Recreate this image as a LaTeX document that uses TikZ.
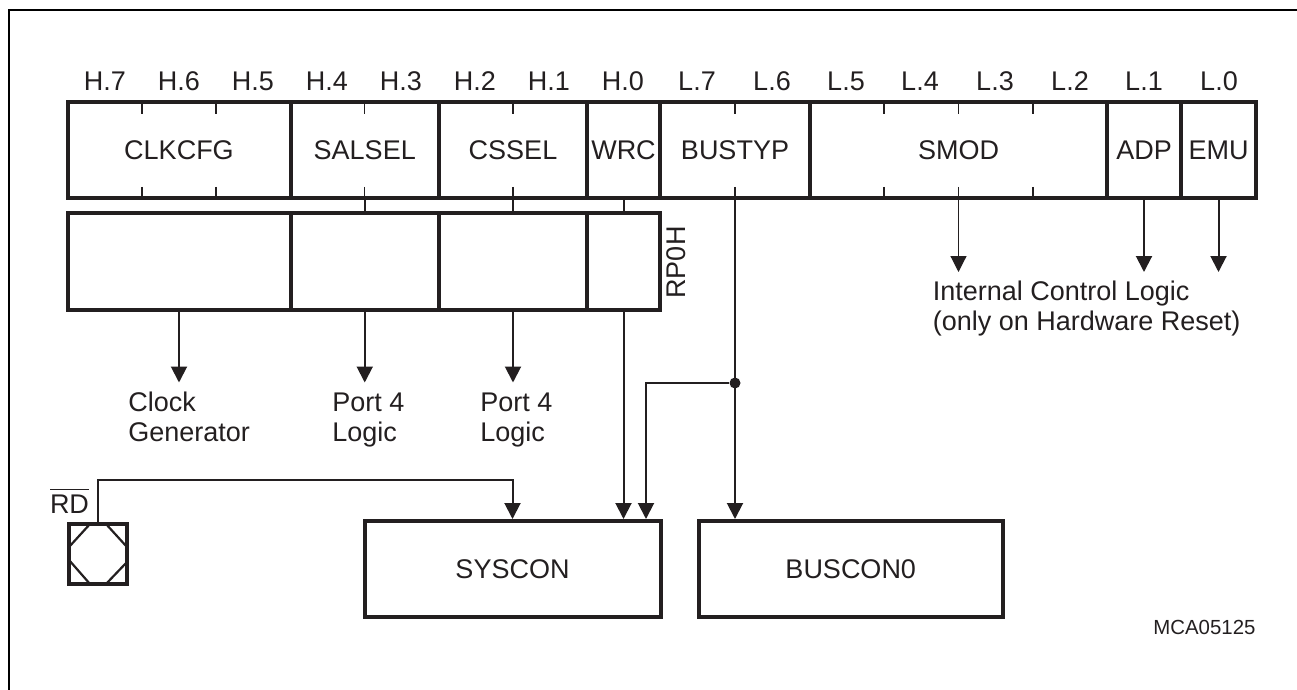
\documentclass[tikz,border=0pt]{standalone}
\usepackage{fontspec}
\setmainfont{Liberation Sans}
\usetikzlibrary{arrows.meta,calc}
\definecolor{ink}{HTML}{231F20}
\tikzset{
  x=0.5pt,y=-0.5pt,
  cellbox/.style={draw=ink,line width=2pt,inner sep=0pt,text=ink,text height=9.5pt,text depth=0pt,font=\fontsize{13.5}{15}\selectfont},
  lbl/.style={inner sep=0pt,text=ink,font=\fontsize{13.5}{15}\selectfont},
  tick/.style={draw=ink,line width=0.9pt},
  conn/.style={draw=ink,line width=1pt},
  thinconn/.style={draw=ink,line width=0.6pt},
  arrowed/.style={-{Triangle[length=8pt,width=8pt]}}
}
% name, x1, x2, y1, y2, text
\newcommand{\regcell}[6]{\node[cellbox,minimum width={(#3-#2)*0.5pt},minimum height={(#5-#4)*0.5pt}] (#1) at ({(#2+#3)/2},{(#4+#5)/2}) {#6};}
\begin{document}
\begin{tikzpicture}
\useasboundingbox (0,0) rectangle (1297,690);
\fill[white] (0,0) rectangle (1297,690);
% sheet frame
\coordinate (frameTL) at (9,10);
\coordinate (frameTR) at (1297,10);
\coordinate (frameBL) at (9,690);
\draw[black,line width=1.1pt] (frameTR) -- (frameTL) -- (frameBL);
% bit labels
\foreach \t/\x in {H.7/105,H.6/179,H.5/253,H.4/327,H.3/401,H.2/475,H.1/549,H.0/623,L.7/697,L.6/772,L.5/846,L.4/920,L.3/995,L.2/1070,L.1/1144,L.0/1219}
  \node[lbl,anchor=base] (bit\t) at (\x,91) {\t};
% upper register
\regcell{clkU}{67.5}{290.5}{102}{198}{CLKCFG}
\regcell{salU}{290.5}{439}{102}{198}{SALSEL}
\regcell{cssU}{439}{587}{102}{198}{CSSEL}
\regcell{wrcU}{587}{660}{102}{198}{WRC}
\regcell{busU}{660}{810}{102}{198}{BUSTYP}
\regcell{smodU}{810}{1107}{102}{198}{SMOD}
\regcell{adpU}{1107}{1181}{102}{198}{ADP}
\regcell{emuU}{1181}{1256}{102}{198}{EMU}
% lower register
\regcell{clkL}{67.5}{290.5}{213}{310}{}
\regcell{salL}{290.5}{439}{213}{310}{}
\regcell{cssL}{439}{587}{213}{310}{}
\regcell{wrcL}{587}{660}{213}{310}{}
\node[lbl,rotate=90] (rp) at (676,262.5) {RP0H};
% ticks
\foreach \x in {142,216,364.5,513,735,884,1033}{
  \draw[tick] (\x,104) -- (\x,114);
  \draw[tick] (\x,187) -- (\x,197);
}
\draw[thinconn] (958.5,104) -- (958.5,114);
\draw[thinconn] (958.5,187) -- (958.5,197);
% links between registers
\draw[conn] (salU.south) -- (salL.north);
\draw[conn] (cssU.south) -- (cssL.north);
\draw[conn] (wrcU.south) -- (wrcL.north);
% target blocks
\regcell{syscon}{364.5}{660.5}{521}{617}{SYSCON}
\regcell{buscon}{698.5}{1003}{521}{617}{BUSCON0}
% free ends of arrows
\coordinate (tipClk) at (clkL.south |- 0,382.5);
\coordinate (tipSal) at (salL.south |- 0,382.5);
\coordinate (tipCss) at (cssL.south |- 0,382.5);
\coordinate (tipSmod) at (smodU.south |- 0,272);
\coordinate (tipAdp) at (adpU.south |- 0,272);
\coordinate (tipEmu) at (emuU.south |- 0,272);
\draw[conn,arrowed] (clkL.south) -- (tipClk);
\draw[conn,arrowed] (salL.south) -- (tipSal);
\draw[conn,arrowed] (cssL.south) -- (tipCss);
\draw[thinconn,arrowed] (smodU.south) -- (tipSmod);
\draw[conn,arrowed] (adpU.south) -- (tipAdp);
\draw[conn,arrowed] (emuU.south) -- (tipEmu);
% outputs labels
\node[lbl,anchor=base west] (icl1) at (932.5,300) {Internal Control Logic};
\node[lbl,anchor=base west] (icl2) at (932.5,330) {(only on Hardware Reset)};
\node[lbl,anchor=base west] (clk1) at (128,411) {Clock};
\node[lbl,anchor=base west] (clk2) at (128,441) {Generator};
\node[lbl,anchor=base west] (pa1) at (332,411) {Port 4};
\node[lbl,anchor=base west] (pa2) at (332,441) {Logic};
\node[lbl,anchor=base west] (pb1) at (480,411) {Port 4};
\node[lbl,anchor=base west] (pb2) at (480,441) {Logic};
% syscon / buscon feeds
\draw[conn,arrowed] (wrcL.south) -- (wrcL.south |- syscon.north);
\node[circle,fill=ink,inner sep=0pt,minimum size=5.5pt] (dot) at (busU.south |- 0,383) {};
\draw[conn,arrowed] (busU.south) -- (busU.south |- buscon.north);
\coordinate (branch) at (646,383);
\draw[conn,arrowed] (dot) -- (branch) -- (branch |- syscon.north);
% RD pad
\node[draw=ink,line width=2pt,inner sep=0pt,minimum width=29pt,minimum height=30pt] (pad) at (97.75,554) {};
\draw[ink,line width=1.1pt] (90,524) -- (69,547) (106,524) -- (127,547) (69,560) -- (90,584) (106,584) -- (127,562);
\node[lbl,anchor=base] (rd) at (69.5,513) {$\overline{\mbox{\rule{0pt}{10.6pt}RD}}$};
\coordinate (rdcorner) at (syscon.north |- 0,480);
\draw[conn,arrowed] (pad.north) -- (pad.north |- rdcorner) -- (rdcorner) -- (syscon.north);
% figure id
\node[inner sep=0pt,anchor=base west,text=ink,font=\fontsize{10.2}{12}\selectfont] (fig) at (1153,634) {MCA05125};
\end{tikzpicture}
\end{document}
